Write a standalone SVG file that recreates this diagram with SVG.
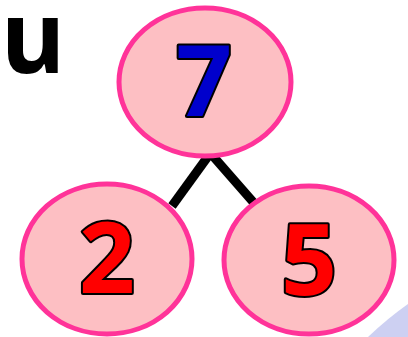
<svg xmlns="http://www.w3.org/2000/svg" width="408" height="337" viewBox="0 0 408 337">
<style>
.node ellipse{fill:#fdbfc3;stroke:#ff3399;stroke-width:5}
.num{font-family:"Open Sans","Noto Sans",sans-serif;font-weight:bold;font-size:98px;text-anchor:middle;stroke:#000;stroke-width:4;paint-order:stroke;stroke-linejoin:round}
.conn line{stroke:#000;stroke-width:9}
</style>
<rect width="408" height="337" fill="#fff"/>
<path d="M368 337 Q388 318 408 304 L408 337 Z" fill="#cdd0f2"/>
<text x="1" y="73" font-family="'Noto Sans Thai','Noto Sans','DejaVu Sans',sans-serif" font-weight="bold" font-size="100" fill="#000">น</text>
<g id="connectors" class="conn">
<line x1="209" y1="155" x2="172" y2="206"/>
<line x1="212" y1="155" x2="254" y2="203"/>
</g>
<g id="node-7" class="node">
<ellipse cx="205" cy="82" rx="86" ry="74"/>
<text class="num" x="204" y="116" fill="#0000cc">7</text>
</g>
<g id="node-2" class="node">
<ellipse cx="107" cy="259" rx="85" ry="75"/>
<text class="num" x="107" y="293" fill="#ff0000">2</text>
</g>
<g id="node-5" class="node">
<ellipse cx="309" cy="260" rx="85" ry="74"/>
<text class="num" x="309" y="295" fill="#ff0000">5</text>
</g>
</svg>
